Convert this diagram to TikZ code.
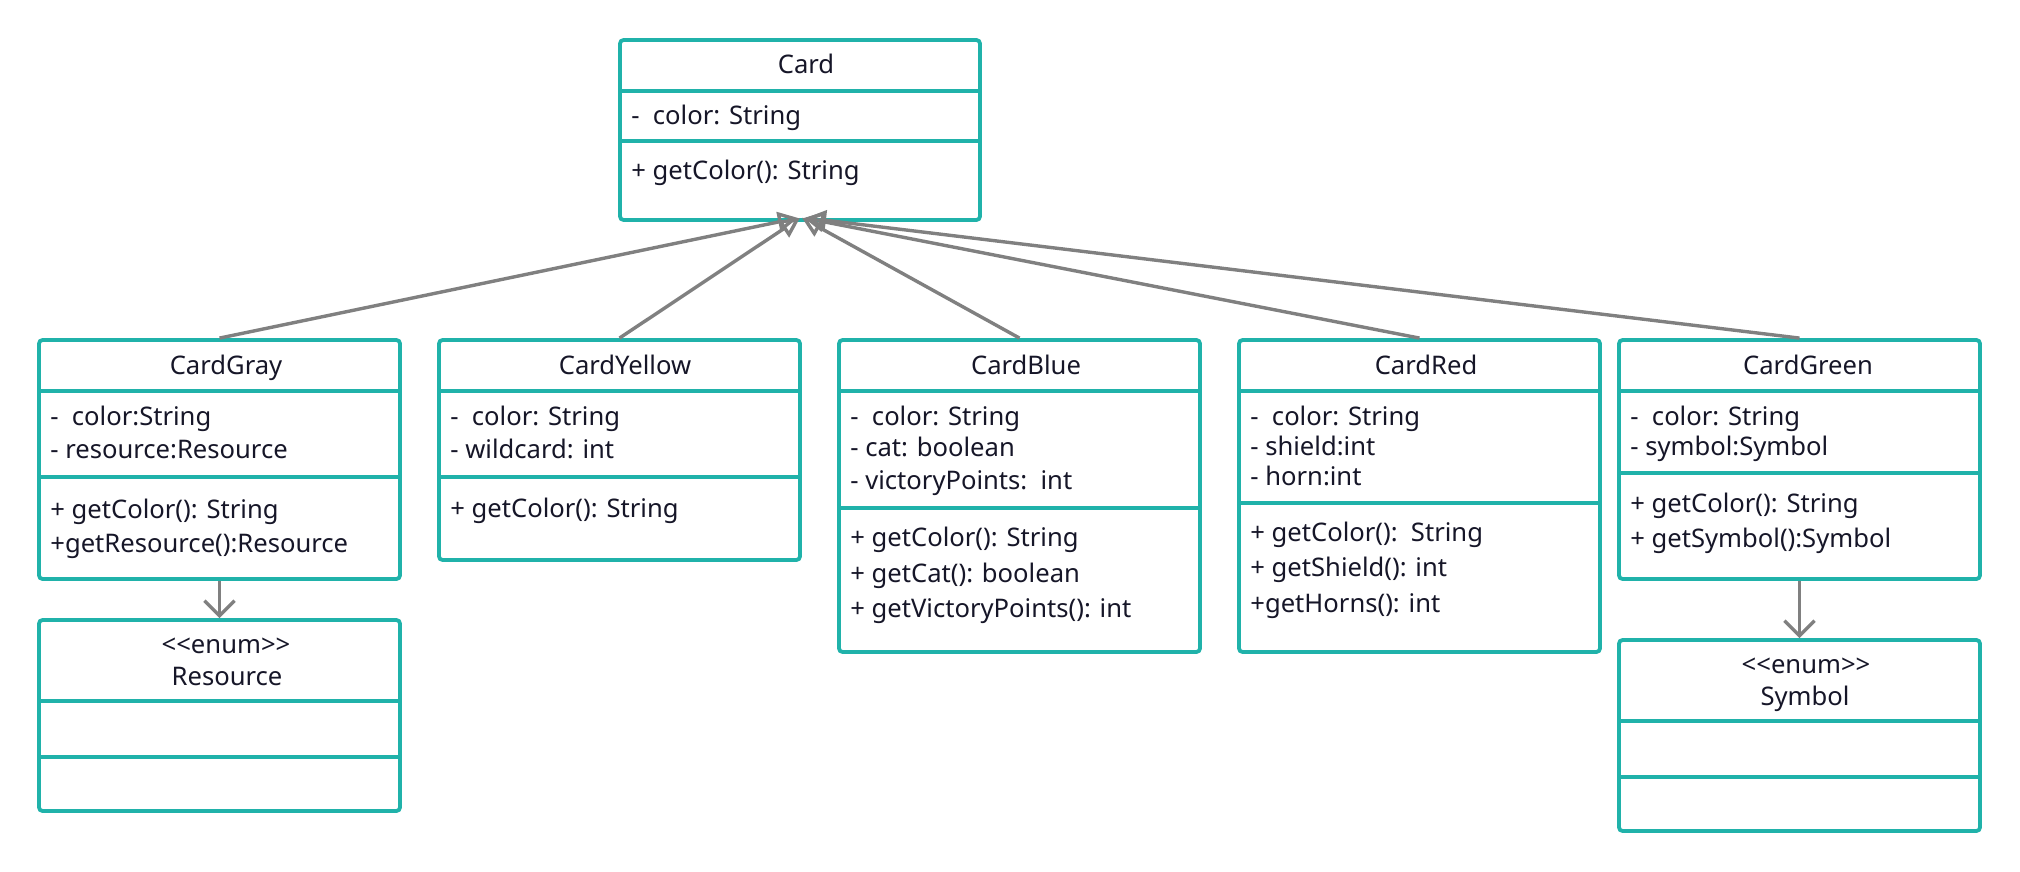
\documentclass[tikz,border=0pt]{standalone}
\usepackage{fontspec}
\setmainfont{Noto Sans}
\usetikzlibrary{arrows.meta,fit}
\definecolor{teal2}{RGB}{32,178,170}
\definecolor{ink}{RGB}{22,22,40}
\definecolor{arrowgray}{RGB}{128,128,128}
\begin{document}
\begin{tikzpicture}[x=0.5pt,y=-0.5pt, font=\fontsize{12.8}{15}\selectfont,
  box/.style={draw=teal2, line width=1.9pt, rounded corners=1.8pt, inner sep=0pt, fill=white},
  divider/.style={draw=teal2, line width=1.8pt},
  txt/.style={anchor=base west, inner sep=0pt, text=ink},
  ttl/.style={anchor=base, inner sep=0pt, text=ink},
  inherit/.style={draw=arrowgray, line width=1.7pt, -{Triangle[open,length=10pt,width=10pt]}},
  assoc/.style={draw=arrowgray, line width=1.7pt, -{Straight Barb[length=7.5pt,width=15pt]}}]
\fill[white] (0,0) rectangle (2020,872);
\useasboundingbox (0,0) rectangle (2020,872);

% Card
\node[box, fit={(620,40)(980,220)}] (card) {};
\draw[divider] (620,91) -- (980,91);
\draw[divider] (620,141) -- (980,141);
\node[ttl] (card-t) at (806,74) {Card};
\node[txt] (card-a1) at (631,125) {-\ \ color: String};
\node[txt] (card-m1) at (631,180) {+ getColor(): String};

% CardGray
\node[box, fit={(39,340)(400,579)}] (gray) {};
\draw[divider] (39,391) -- (400,391);
\draw[divider] (39,477) -- (400,477);
\node[ttl] (gray-t) at (226,374) {CardGray};
\node[txt] (gray-a1) at (50,425) {-\ \ color:String};
\node[txt] (gray-a2) at (50,458) {- resource:Resource};
\node[txt] (gray-m1) at (50,518) {+ getColor(): String};
\node[txt] (gray-m2) at (50,552) {+getResource():Resource};

% Resource
\node[box, fit={(39,620)(400,811)}] (resource) {};
\draw[divider] (39,701) -- (400,701);
\draw[divider] (39,757) -- (400,757);
\node[ttl] (resource-s) at (226,653) {{<}{<}enum{>}{>}};
\node[ttl] (resource-t) at (227,685) {Resource};

% CardYellow
\node[box, fit={(439,340)(800,560)}] (yellow) {};
\draw[divider] (439,391) -- (800,391);
\draw[divider] (439,477) -- (800,477);
\node[ttl] (yellow-t) at (625,374) {CardYellow};
\node[txt] (yellow-a1) at (450,425) {-\ \ color: String};
\node[txt] (yellow-a2) at (450,458) {- wildcard: int};
\node[txt] (yellow-m1) at (450,517) {+ getColor(): String};

% CardBlue
\node[box, fit={(839,340)(1200,652)}] (blue) {};
\draw[divider] (839,391) -- (1200,391);
\draw[divider] (839,508) -- (1200,508);
\node[ttl] (blue-t) at (1026,374) {CardBlue};
\node[txt] (blue-a1) at (850,425) {-\ \ color: String};
\node[txt] (blue-a2) at (850,456) {- cat: boolean};
\node[txt] (blue-a3) at (850,489) {- victoryPoints:\ \ int};
\node[txt] (blue-m1) at (850,546) {+ getColor(): String};
\node[txt] (blue-m2) at (850,582) {+ getCat(): boolean};
\node[txt] (blue-m3) at (850,617) {+ getVictoryPoints(): int};

% CardRed
\node[box, fit={(1239,340)(1600,652)}] (red) {};
\draw[divider] (1239,391) -- (1600,391);
\draw[divider] (1239,503) -- (1600,503);
\node[ttl] (red-t) at (1426,374) {CardRed};
\node[txt] (red-a1) at (1250,425) {-\ \ color: String};
\node[txt] (red-a2) at (1250,455) {- shield:int};
\node[txt] (red-a3) at (1250,485) {- horn:int};
\node[txt] (red-m1) at (1250,541) {+ getColor():\ \ String};
\node[txt] (red-m2) at (1250,576) {+ getShield(): int};
\node[txt] (red-m3) at (1250,612) {+getHorns(): int};

% CardGreen
\node[box, fit={(1619,340)(1980,579)}] (green) {};
\draw[divider] (1619,391) -- (1980,391);
\draw[divider] (1619,473) -- (1980,473);
\node[ttl] (green-t) at (1808,374) {CardGreen};
\node[txt] (green-a1) at (1630,425) {-\ \ color: String};
\node[txt] (green-a2) at (1630,455) {- symbol:Symbol};
\node[txt] (green-m1) at (1630,512) {+ getColor(): String};
\node[txt] (green-m2) at (1630,547) {+ getSymbol():Symbol};

% Symbol
\node[box, fit={(1619,640)(1980,831)}] (symbol) {};
\draw[divider] (1619,721) -- (1980,721);
\draw[divider] (1619,777) -- (1980,777);
\node[ttl] (symbol-s) at (1806,673) {{<}{<}enum{>}{>}};
\node[ttl] (symbol-t) at (1805,705) {Symbol};

% inheritance
\draw[inherit] (gray.north) -- ([xshift=-1pt,yshift=2pt]card.south);
\draw[inherit] (yellow.north) -- ([yshift=2pt]card.south);
\draw[inherit] (blue.north) -- ([xshift=1pt,yshift=2pt]card.south);
\draw[inherit] (red.north) -- ([xshift=2pt,yshift=2pt]card.south);
\draw[inherit] (green.north) -- ([xshift=3pt,yshift=2pt]card.south);

% associations
\draw[assoc] (gray.south) -- (resource.north);
\draw[assoc] (green.south) -- (symbol.north);
\end{tikzpicture}
\end{document}
